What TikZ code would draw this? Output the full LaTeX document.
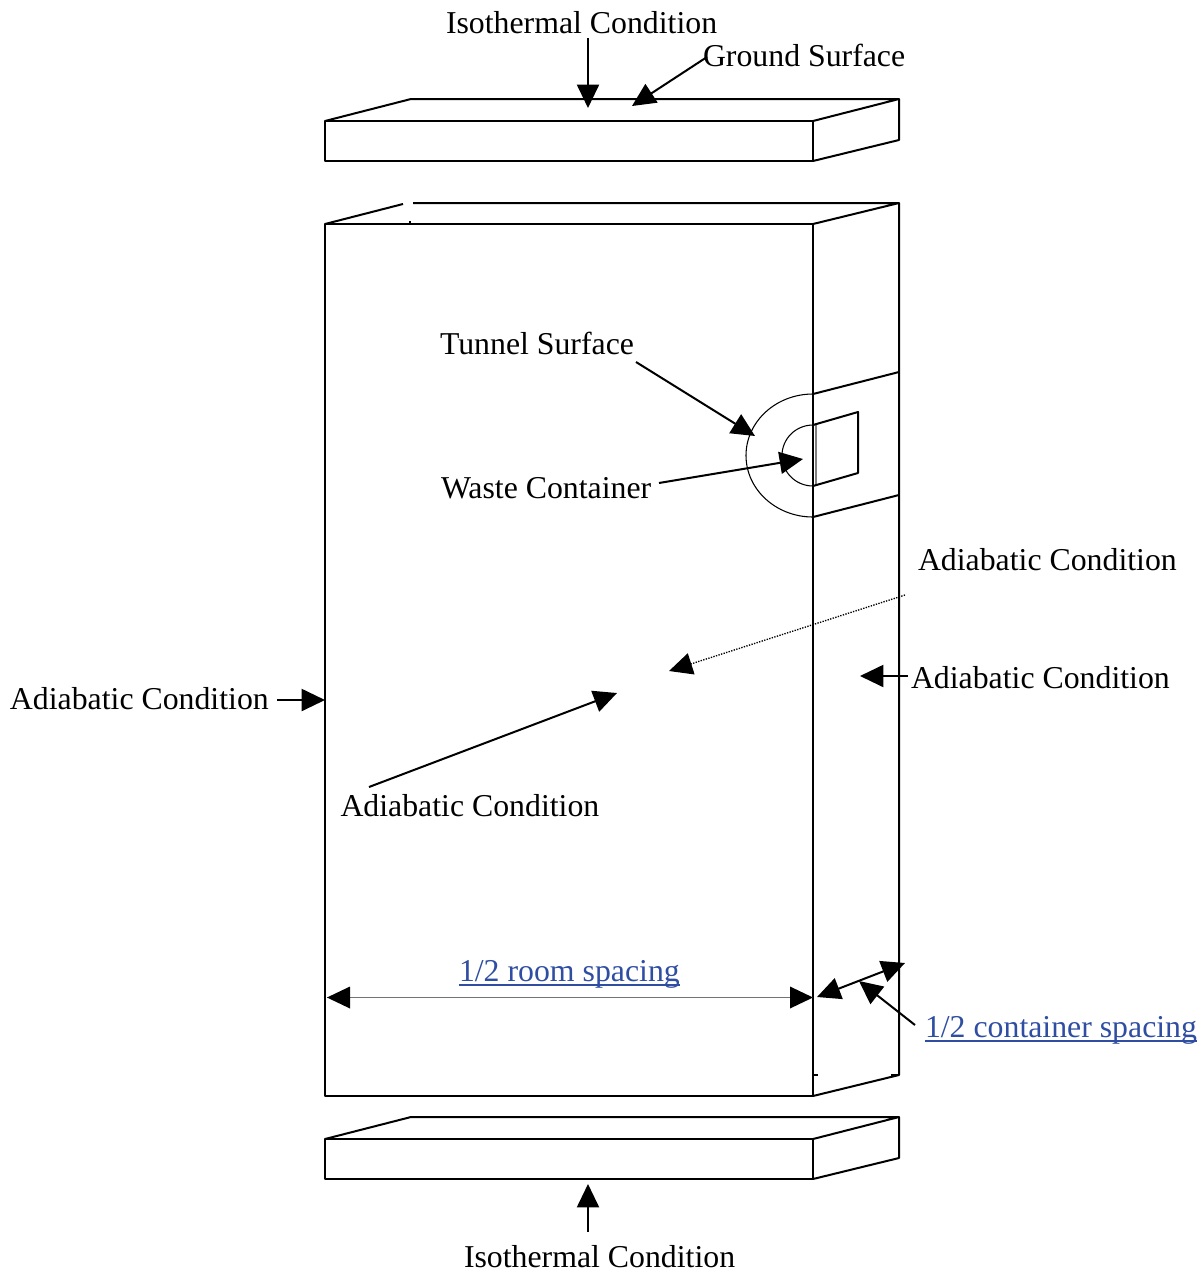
\documentclass[tikz,border=0pt]{standalone}
\usepackage{fontspec}
\setmainfont{Liberation Serif}
\usetikzlibrary{arrows.meta}
\definecolor{linkblue}{HTML}{2F4EA2}
\newcommand\ulnk[1]{\setbox0\hbox{#1}\rlap{\rule[-3.2pt]{\wd0}{1.5pt}}\box0}
\tikzset{
  x=0.75pt,y=-0.75pt,
  edge/.style={line width=1.5pt,line join=round},
  thin edge/.style={line width=0.8pt},
  label/.style={anchor=base west,inner sep=0pt,outer sep=0pt,font=\fontsize{23.85pt}{26pt}\selectfont},
  link/.style={label,text=linkblue},
  tip/.style={-{Triangle[length=17.5pt,width=16.5pt]},line width=1.5pt},
  dbl/.style={{Triangle[length=17.5pt,width=16.5pt]}-{Triangle[length=17.5pt,width=16.5pt]},line width=1.5pt},
}
\begin{document}
\begin{tikzpicture}
\useasboundingbox (0,0) rectangle (1204,1272);
% top slab
\draw[edge] (325,121) rectangle (813,161);
\draw[edge] (325,121) -- (411,99) -- (899,99) -- (813,121);
\draw[edge] (899,99) -- (899,140) -- (813,161);
% main block
\draw[edge] (325,224) rectangle (813,1096);
\draw[edge] (325,224) -- (403,204);
\draw[edge] (413,203) -- (899,203) -- (813,224);
\draw[edge] (899,203) -- (899,1075) -- (813,1096);
\draw[line width=0.9pt] (410,221) -- (410,224);
\draw[line width=0.9pt] (813,1075) -- (818,1075);
\draw[line width=0.9pt] (891,1075) -- (899,1075);
% tunnel
\draw[edge] (813,394) -- (899,372);
\draw[edge] (813,517) -- (899,495);
\draw[thin edge] (813,394) arc[start angle=-90,end angle=-270,x radius=67,y radius=61.5];
% container
\draw[gray,line width=1.3pt] (816,425) -- (816,486);
\draw[edge] (813,425) -- (858,412) -- (858,473) -- (813,486);
\draw[thin edge] (813,425) arc[start angle=-90,end angle=-270,x radius=31,y radius=30.5];
% bottom slab
\draw[edge] (325,1139) rectangle (813,1179);
\draw[edge] (325,1139) -- (411,1117) -- (899,1117) -- (813,1139);
\draw[edge] (899,1117) -- (899,1158) -- (813,1179);
% labels
\node[label] (isotop) at (446,33.5) {Isothermal Condition};
\node[label] (ground) at (703,66.5) {Ground Surface};
\node[label] (tunnel) at (440,354.5) {Tunnel Surface};
\node[label] (waste) at (441,498.5) {Waste Container};
\node[label] (adiaA) at (918,570.5) {Adiabatic Condition};
\node[label] (adiaB) at (911,688.5) {Adiabatic Condition};
\node[label] (adiaC) at (10,709.5) {Adiabatic Condition};
\node[label] (adiaD) at (340.5,816.5) {Adiabatic Condition};
\node[link] (room) at (459,981.5) {\ulnk{1/2 room spacing}};
\node[link] (cont) at (925,1037.5) {\ulnk{1/2 container spacing}};
\node[label] (isobot) at (464,1267.5) {Isothermal Condition};
% connector ends
\coordinate (a1s) at (588,38); \coordinate (a1e) at (588,108);
\coordinate (a2s) at (707,57); \coordinate (a2e) at (632,106);
\coordinate (a3s) at (636,362); \coordinate (a3e) at (755,436);
\coordinate (a4s) at (659,483); \coordinate (a4e) at (803,459);
\coordinate (a5s) at (905,595); \coordinate (a5e) at (669,671);
\coordinate (a6s) at (908,676); \coordinate (a6e) at (860,676);
\coordinate (a7s) at (277,700); \coordinate (a7e) at (325,700);
\coordinate (a8s) at (369,787); \coordinate (a8e) at (617,693);
\coordinate (r1) at (327,997.5); \coordinate (r2) at (813,997.5);
\coordinate (c1) at (817,997); \coordinate (c2) at (905,963);
\coordinate (a9s) at (915,1025); \coordinate (a9e) at (859,981);
\coordinate (a10s) at (588,1232); \coordinate (a10e) at (588,1184);
% connectors
\draw[tip] (a1s) -- (a1e);
\draw[tip] (a2s) -- (a2e);
\draw[tip] (a3s) -- (a3e);
\draw[tip] (a4s) -- (a4e);
\draw[tip,line width=1pt,densely dotted] (a5s) -- (a5e);
\draw[tip] (a6s) -- (a6e);
\draw[tip] (a7s) -- (a7e);
\draw[tip] (a8s) -- (a8e);
\draw[draw=gray!90!black,line width=1pt] (r1) -- (r2);
\fill (r1) -- ++(23,-11) -- ++(0,22) -- cycle;
\fill (r2) -- ++(-23,-11) -- ++(0,22) -- cycle;
\draw[dbl] (c1) -- (c2);
\draw[tip] (a9s) -- (a9e);
\draw[tip] (a10s) -- (a10e);
\end{tikzpicture}
\end{document}
